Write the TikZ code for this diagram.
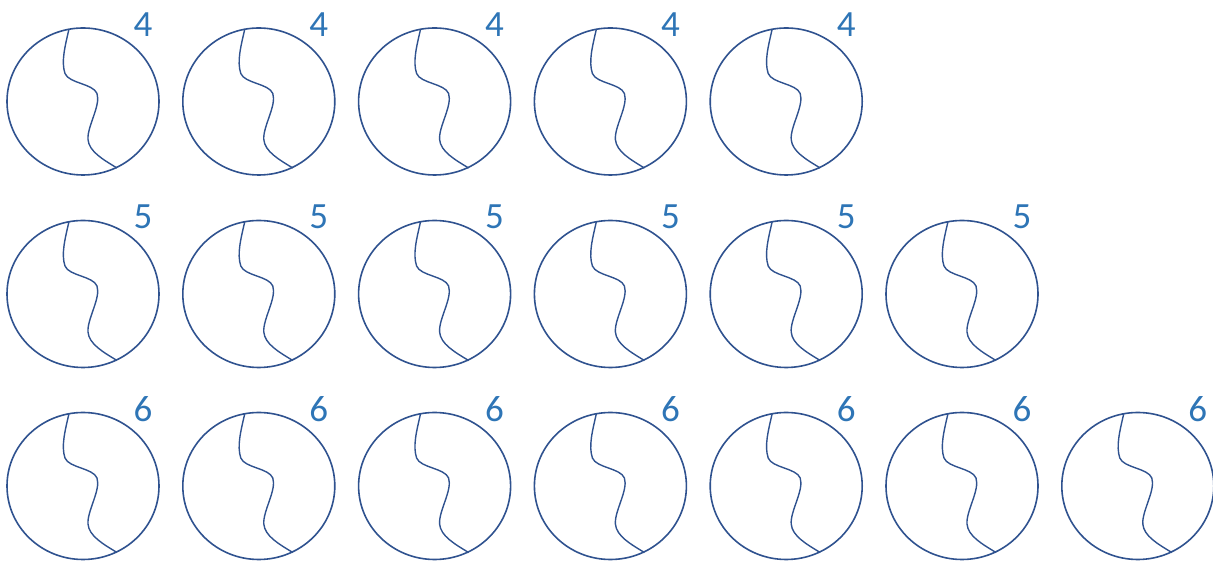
\documentclass[tikz,border=0pt]{standalone}
\usepackage{fontspec}
\setmainfont{Carlito}
\usepackage{xcolor}
\usepackage{tikz}
\usetikzlibrary{shapes.geometric, positioning}

\definecolor{ringblue}{RGB}{47,82,143}
\definecolor{numblue}{RGB}{46,117,182}

\begin{document}
\begin{tikzpicture}[
  x=1pt, y=1pt,
  ball/.style={draw=ringblue, line width=1.6pt, ellipse, minimum width=152pt, minimum height=147pt, inner sep=0pt},
  num/.style={text=numblue, font=\fontsize{37}{40}\selectfont, inner sep=0pt},
  seam/.style={draw=ringblue, line width=1.4pt}
]
\useasboundingbox (0,0) rectangle (1213,567);

% Nodes
\foreach \r/\n/\y/\k in {1/4/465.5/5, 2/5/273/6, 3/6/81/7} {
  \foreach \i in {1,...,\k} {
    \node[ball] (c-\r-\i) at ({83+175.8*(\i-1)},\y) {};
    \node[num] (n-\r-\i) at ([shift={(60,77)}]c-\r-\i.center) {\n};
    % seam
    \draw[seam, shift={(c-\r-\i.center)}] (-14,72.5) .. controls (-18,55) and (-22,40) .. (-18,28)
      .. controls (-14,18) and (10,18) .. (14,8)
      .. controls (18,-4) and (4,-25) .. (5,-38)
      .. controls (6,-50) and (20,-58) .. (34,-66.5);
  }
}
\end{tikzpicture}
\end{document}
